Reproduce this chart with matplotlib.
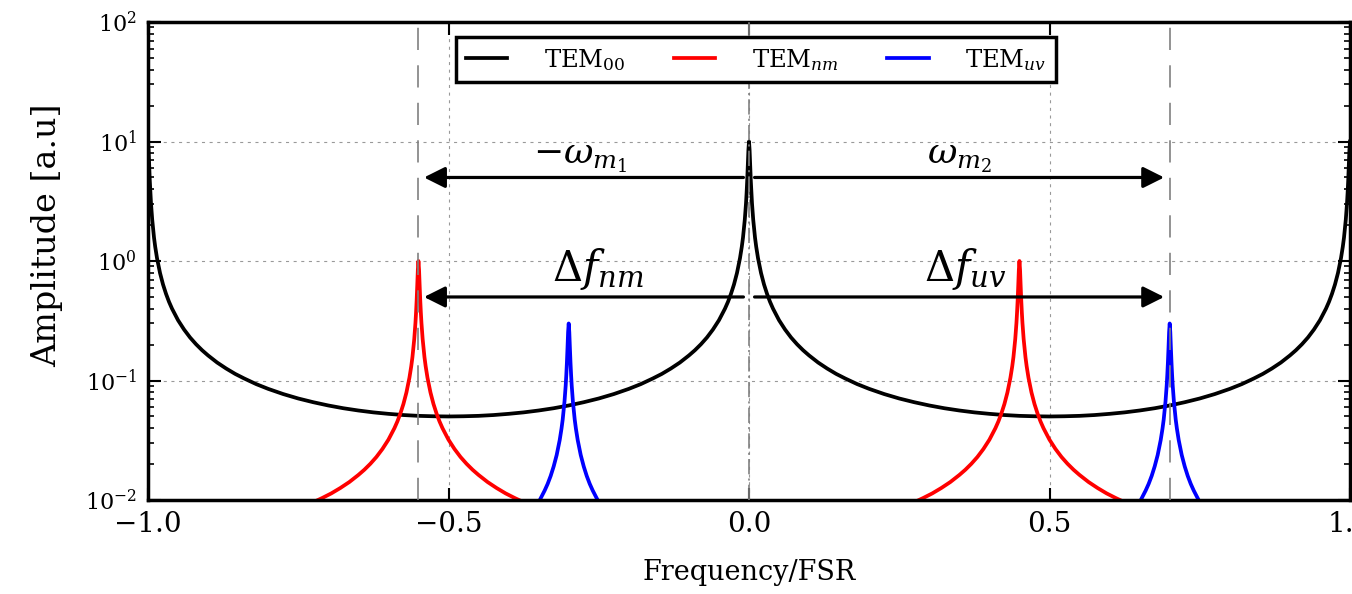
import matplotlib
matplotlib.use('Agg')
import matplotlib.pyplot as plt

# ---------------- data ----------------
# TEM00 (black): resonances at -1, 0, 1 (amplitude 10), floor 0.05 at +-0.5
tem00_x = [-1.0, -0.999, -0.998, -0.997, -0.996, -0.995, -0.993, -0.99, -0.988, -0.985, -0.98, -0.975, -0.97,
           -0.965, -0.96, -0.95, -0.94, -0.93, -0.92, -0.91, -0.9, -0.885, -0.87, -0.855, -0.84, -0.82, -0.8,
           -0.775, -0.75, -0.725, -0.7, -0.675, -0.65, -0.625, -0.6, -0.575, -0.55, -0.525, -0.5,
           -0.475, -0.45, -0.425, -0.4, -0.375, -0.35, -0.325, -0.3, -0.275, -0.25, -0.225, -0.2, -0.18,
           -0.16, -0.145, -0.13, -0.115, -0.1, -0.09, -0.08, -0.07, -0.06, -0.05, -0.04, -0.035, -0.03,
           -0.025, -0.02, -0.015, -0.012, -0.01, -0.007, -0.005, -0.004, -0.003, -0.002, -0.001, 0.0,
           0.001, 0.002, 0.003, 0.004, 0.005, 0.007, 0.01, 0.012, 0.015, 0.02, 0.025, 0.03, 0.035, 0.04,
           0.05, 0.06, 0.07, 0.08, 0.09, 0.1, 0.115, 0.13, 0.145, 0.16, 0.18, 0.2, 0.225, 0.25, 0.275, 0.3,
           0.325, 0.35, 0.375, 0.4, 0.425, 0.45, 0.475, 0.5,
           0.525, 0.55, 0.575, 0.6, 0.625, 0.65, 0.675, 0.7, 0.725, 0.75, 0.775, 0.8, 0.82, 0.84, 0.855,
           0.87, 0.885, 0.9, 0.91, 0.92, 0.93, 0.94, 0.95, 0.96, 0.965, 0.97, 0.975, 0.98, 0.985, 0.988,
           0.99, 0.993, 0.995, 0.996, 0.997, 0.998, 0.999, 1.0]
tem00_y = [10.0, 8.47, 6.23, 4.69, 3.70, 3.03, 2.22, 1.57, 1.315, 1.056, 0.794, 0.636, 0.531,
           0.455, 0.399, 0.3195, 0.267, 0.229, 0.201, 0.1792, 0.162, 0.1414, 0.126, 0.1136, 0.104, 0.0933, 0.0851,
           0.0770, 0.0707, 0.0658, 0.0618, 0.0586, 0.0561, 0.0541, 0.0526, 0.0514, 0.0506, 0.0502, 0.0500,
           0.0502, 0.0506, 0.0514, 0.0526, 0.0541, 0.0561, 0.0586, 0.0618, 0.0658, 0.0707, 0.0770, 0.0851, 0.0933,
           0.104, 0.1136, 0.126, 0.1414, 0.162, 0.1792, 0.201, 0.229, 0.267, 0.3195, 0.399, 0.455, 0.531,
           0.636, 0.794, 1.056, 1.315, 1.57, 2.22, 3.03, 3.70, 4.69, 6.23, 8.47, 10.0,
           8.47, 6.23, 4.69, 3.70, 3.03, 2.22, 1.57, 1.315, 1.056, 0.794, 0.636, 0.531, 0.455, 0.399,
           0.3195, 0.267, 0.229, 0.201, 0.1792, 0.162, 0.1414, 0.126, 0.1136, 0.104, 0.0933, 0.0851, 0.0770, 0.0707, 0.0658, 0.0618,
           0.0586, 0.0561, 0.0541, 0.0526, 0.0514, 0.0506, 0.0502, 0.0500,
           0.0502, 0.0506, 0.0514, 0.0526, 0.0541, 0.0561, 0.0586, 0.0618, 0.0658, 0.0707, 0.0770, 0.0851, 0.0933, 0.104, 0.1136,
           0.126, 0.1414, 0.162, 0.1792, 0.201, 0.229, 0.267, 0.3195, 0.399, 0.455, 0.531, 0.636, 0.794, 1.056, 1.315,
           1.57, 2.22, 3.03, 3.70, 4.69, 6.23, 8.47, 10.0]

# TEMnm (red): resonances at -0.55 and 0.45 (amplitude 1)
temnm_x = [-0.8, -0.775, -0.75, -0.73, -0.71, -0.695, -0.68, -0.665, -0.65, -0.64, -0.63, -0.62, -0.61, -0.6,
           -0.59, -0.585, -0.58, -0.575, -0.57, -0.565, -0.562, -0.56, -0.557, -0.555, -0.554, -0.553, -0.552,
           -0.551, -0.55, -0.549, -0.548, -0.547, -0.546, -0.545, -0.543, -0.54, -0.538, -0.535, -0.53, -0.525,
           -0.52, -0.515, -0.51, -0.5, -0.49, -0.48, -0.47, -0.46, -0.45, -0.435, -0.42, -0.405, -0.39, -0.37,
           -0.35, -0.325, -0.3, -0.05,
           0.2, 0.225, 0.25, 0.27, 0.29, 0.305, 0.32, 0.335, 0.35, 0.36, 0.37, 0.38, 0.39, 0.4,
           0.41, 0.415, 0.42, 0.425, 0.43, 0.435, 0.438, 0.44, 0.443, 0.445, 0.446, 0.447, 0.448,
           0.449, 0.45, 0.451, 0.452, 0.453, 0.454, 0.455, 0.457, 0.46, 0.462, 0.465, 0.47, 0.475,
           0.48, 0.485, 0.49, 0.5, 0.51, 0.52, 0.53, 0.54, 0.55, 0.565, 0.58, 0.595, 0.61, 0.63,
           0.65, 0.675, 0.7]
temnm_y = [0.00707, 0.0077, 0.00851, 0.00933, 0.0104, 0.01136, 0.0126, 0.01414, 0.0162, 0.01792, 0.0201, 0.0229, 0.0267, 0.03195,
           0.0399, 0.0455, 0.0531, 0.0636, 0.0794, 0.1056, 0.1315, 0.157, 0.222, 0.303, 0.370, 0.469, 0.623,
           0.847, 1.0, 0.847, 0.623, 0.469, 0.370, 0.303, 0.222, 0.157, 0.1315, 0.1056, 0.0794, 0.0636,
           0.0531, 0.0455, 0.0399, 0.03195, 0.0267, 0.0229, 0.0201, 0.01792, 0.0162, 0.01414, 0.0126, 0.01136, 0.0104, 0.00933,
           0.00851, 0.0077, 0.00707, 0.0050,
           0.00707, 0.0077, 0.00851, 0.00933, 0.0104, 0.01136, 0.0126, 0.01414, 0.0162, 0.01792, 0.0201, 0.0229, 0.0267, 0.03195,
           0.0399, 0.0455, 0.0531, 0.0636, 0.0794, 0.1056, 0.1315, 0.157, 0.222, 0.303, 0.370, 0.469, 0.623,
           0.847, 1.0, 0.847, 0.623, 0.469, 0.370, 0.303, 0.222, 0.157, 0.1315, 0.1056, 0.0794, 0.0636,
           0.0531, 0.0455, 0.0399, 0.03195, 0.0267, 0.0229, 0.0201, 0.01792, 0.0162, 0.01414, 0.0126, 0.01136, 0.0104, 0.00933,
           0.00851, 0.0077, 0.00707]

# TEMuv (blue): resonances at -0.3 and 0.7 (amplitude 0.3)
temuv_x = [-0.4, -0.39, -0.38, -0.37, -0.36, -0.35, -0.34, -0.335, -0.33, -0.325, -0.32, -0.315, -0.312, -0.31,
           -0.307, -0.305, -0.304, -0.303, -0.302, -0.301, -0.3, -0.299, -0.298, -0.297, -0.296, -0.295, -0.293,
           -0.29, -0.288, -0.285, -0.28, -0.275, -0.27, -0.265, -0.26, -0.25, -0.24, -0.23, -0.22, -0.21, -0.2,
           0.2,
           0.6, 0.61, 0.62, 0.63, 0.64, 0.65, 0.66, 0.665, 0.67, 0.675, 0.68, 0.685, 0.688, 0.69,
           0.693, 0.695, 0.696, 0.697, 0.698, 0.699, 0.7, 0.701, 0.702, 0.703, 0.704, 0.705, 0.707,
           0.71, 0.712, 0.715, 0.72, 0.725, 0.73, 0.735, 0.74, 0.75, 0.76, 0.77, 0.78, 0.79, 0.8]
temuv_y = [0.00486, 0.00538, 0.00603, 0.00687, 0.0080, 0.00958, 0.0120, 0.01365, 0.0159, 0.0191, 0.0238, 0.0317, 0.0395, 0.0471,
           0.0666, 0.0909, 0.111, 0.141, 0.187, 0.254, 0.30, 0.254, 0.187, 0.141, 0.111, 0.0909, 0.0666,
           0.0471, 0.0395, 0.0317, 0.0238, 0.0191, 0.0159, 0.01365, 0.0120, 0.00958, 0.0080, 0.00687, 0.00603, 0.00538, 0.00486,
           0.0015,
           0.00486, 0.00538, 0.00603, 0.00687, 0.0080, 0.00958, 0.0120, 0.01365, 0.0159, 0.0191, 0.0238, 0.0317, 0.0395, 0.0471,
           0.0666, 0.0909, 0.111, 0.141, 0.187, 0.254, 0.30, 0.254, 0.187, 0.141, 0.111, 0.0909, 0.0666,
           0.0471, 0.0395, 0.0317, 0.0238, 0.0191, 0.0159, 0.01365, 0.0120, 0.00958, 0.0080, 0.00687, 0.00603, 0.00538, 0.00486]

legend_labels = ['TEM$_{00}$', 'TEM$_{nm}$', 'TEM$_{uv}$']
mode_positions = [-0.55, 0.7]          # dashed vertical markers
arrow_levels = [5.0, 0.5]               # y of the two arrow rows
arrow_tips = [-0.55, 0.7]
xticks = [-1.0, -0.5, 0.0, 0.5, 1.0]

# ---------------- style ----------------
plt.rcParams['font.family'] = ['DejaVu Serif']
plt.rcParams['mathtext.fontset'] = 'dejavuserif'
plt.rcParams['lines.scale_dashes'] = False

W, H = 1352, 594
fig = plt.figure(figsize=(W / 100, H / 100), dpi=100)
ax = fig.add_axes([148 / W, 94 / H, 1202 / W, 478 / H])

lw = 2.7
l0, = ax.plot(tem00_x, tem00_y, color='black', lw=lw, label=legend_labels[0])
l1, = ax.plot(temnm_x, temnm_y, color='#ff0000', lw=lw, label=legend_labels[1])
l2, = ax.plot(temuv_x, temuv_y, color='#0000ff', lw=lw, label=legend_labels[2])

ax.set_yscale('log')
ax.set_xlim(-1, 1)
ax.set_ylim(1e-2, 1e2)
ax.set_xticks(xticks)

ax.grid(True, which='major', color='#999999', linestyle=(0, (2.2, 3.3)), linewidth=0.8)

for xp in mode_positions:
    ax.axvline(xp, color='#808080', lw=1.2, ls=(0, (16, 11)), zorder=3)
ax.axvline(0.0, color='#808080', lw=1.2, ls=(0, (11, 3, 1.5, 3)), zorder=3)

for yl in arrow_levels:
    for tip in arrow_tips:
        ax.annotate('', xy=(tip, yl), xytext=(0.0, yl),
                    arrowprops=dict(arrowstyle='-|>,head_length=0.4,head_width=0.2',
                                    mutation_scale=32, lw=2.3, color='black',
                                    shrinkA=4, shrinkB=4), zorder=4)

ax.text(-0.28, 7.3, r'$-\omega_{m_1}$', fontsize=26, ha='center', va='center')
ax.text(0.35, 7.3, r'$\omega_{m_2}$', fontsize=26, ha='center', va='center')
ax.text(-0.252, 0.85, r'$\Delta f_{nm}$', fontsize=30, ha='center', va='center')
ax.text(0.36, 0.85, r'$\Delta f_{uv}$', fontsize=30, ha='center', va='center')

for s in ax.spines.values():
    s.set_linewidth(2.5)
ax.tick_params(which='both', direction='in', top=True, right=True)
ax.tick_params(which='major', length=9, width=1.5)
ax.tick_params(which='minor', length=4.5, width=1.2)
ax.tick_params(axis='x', pad=8, labelsize=20)
ax.tick_params(axis='y', pad=8, labelsize=16)

ax.set_xlabel('Frequency/FSR', fontsize=19.5, labelpad=15)
ax.set_ylabel('Amplitude [a.u]', fontsize=24)
ax.yaxis.set_label_coords(-0.0707, 0.554)

leg = ax.legend(handles=[l0, l1, l2], loc='upper center', bbox_to_anchor=(0.506, 0.9686),
                borderaxespad=0, ncol=3, fontsize=17.5, handlelength=1.7, handletextpad=1.5,
                columnspacing=2.0, fancybox=False, framealpha=1, edgecolor='black',
                borderpad=0.4)
leg.get_frame().set_linewidth(2.5)

fig.savefig('out.png', dpi=100)
